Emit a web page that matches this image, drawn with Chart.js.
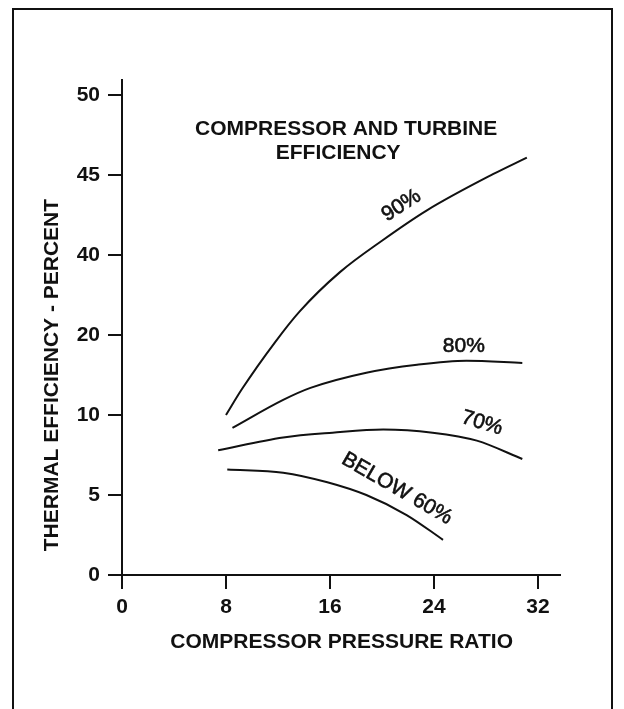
<!DOCTYPE html>
<html>
<head>
<meta charset="utf-8">
<title>Thermal efficiency vs compressor pressure ratio</title>
<script src="https://cdn.jsdelivr.net/npm/chart.js@4.4.0/dist/chart.umd.min.js"></script>
<style>
  body { margin: 0; background: #fff; }
  #effChart { display: block; }
</style>
</head>
<body>
<canvas id="effChart" width="624" height="709"></canvas>
<script>
// the y labels are evenly spaced on the axis but are not evenly spaced values
const yTickLabels = [0, 5, 10, 20, 40, 45, 50];
const xTicks = [0, 8, 16, 24, 32];

// compressor pressure ratio / thermal efficiency (%) for each component efficiency
const ratio90 = [8.0, 9.23, 11.77, 13.69, 16.77, 20.0, 23.46, 28.54, 31.15];
const eff90 = [10.0, 13.25, 19.1, 26.0, 35.75, 40.9, 42.8, 45.06, 46.1];

const ratio80 = [8.5, 12.4, 14.5, 18.8, 22.7, 26.5, 30.8];
const eff80 = [9.2, 11.9, 13.4, 15.3, 16.3, 16.8, 16.5];

const ratio70 = [7.4, 12.4, 16.2, 20.1, 23.9, 27.3, 30.8];
const eff70 = [7.8, 8.6, 8.9, 9.1, 8.9, 8.4, 7.25];

const ratio60 = [8.1, 12.4, 15.8, 18.8, 21.9, 24.7];
const eff60 = [6.6, 6.4, 5.8, 5.0, 3.75, 2.2];

// map a percent value onto the evenly spaced axis positions
function toPos(v) {
  for (let i = 0; i < yTickLabels.length - 1; i++) {
    const a = yTickLabels[i], b = yTickLabels[i + 1];
    if (v <= b) return i + (v - a) / (b - a);
  }
  return yTickLabels.length - 1;
}

function series(xs, ys) {
  return {
    data: xs.map((x, i) => ({ x: x, y: toPos(ys[i]) })),
    borderColor: '#111',
    borderWidth: 2,
    pointRadius: 0,
    cubicInterpolationMode: 'monotone'
  };
}

const FONT = '"Liberation Sans", Arial, Helvetica, sans-serif';

// frame, axis titles and curve captions
const decorations = {
  id: 'decorations',
  afterDraw(chart) {
    const ctx = chart.ctx;
    const xs = chart.scales.x, ys = chart.scales.y;
    const area = chart.chartArea;
    ctx.save();

    ctx.strokeStyle = '#111';
    ctx.lineWidth = 2;
    ctx.beginPath();
    ctx.moveTo(13, 709);
    ctx.lineTo(13, 9);
    ctx.lineTo(612, 9);
    ctx.lineTo(612, 709);
    ctx.stroke();

    ctx.fillStyle = '#111';
    ctx.textAlign = 'center';
    ctx.textBaseline = 'middle';

    ctx.font = 'bold 21px ' + FONT;
    ctx.fillText('COMPRESSOR PRESSURE RATIO', xs.getPixelForValue(16.9), area.bottom + 67);
    const ax = xs.getPixelForValue(17.25), ay = ys.getPixelForValue(toPos(47.9));
    ctx.fillText('COMPRESSOR AND TURBINE', ax, ay);
    ctx.fillText('EFFICIENCY', ax - 8, ay + 24);

    ctx.save();
    ctx.translate(area.left - 70, ys.getPixelForValue(2.5));
    ctx.rotate(-Math.PI / 2);
    ctx.fillText('THERMAL EFFICIENCY - PERCENT', 0, 0);
    ctx.restore();

    const captions = [
      { text: '90%', x: 21.5, y: 43.1, angle: -33 },
      { text: '80%', x: 26.3, y: 18.6, angle: 0 },
      { text: '70%', x: 27.7, y: 9.5, angle: 17 },
      { text: 'BELOW 60%', x: 21.15, y: 5.4, angle: 30 }
    ];
    ctx.font = '21px ' + FONT;
    ctx.lineWidth = 0.6;
    captions.forEach(c => {
      ctx.save();
      ctx.translate(xs.getPixelForValue(c.x), ys.getPixelForValue(toPos(c.y)));
      ctx.rotate(c.angle * Math.PI / 180);
      ctx.fillText(c.text, 0, 0);
      ctx.strokeText(c.text, 0, 0);
      ctx.restore();
    });

    ctx.restore();
  }
};

const axisGrid = { display: true, drawOnChartArea: false, drawTicks: true, tickLength: 14, color: '#111', lineWidth: 2 };
const axisBorder = { display: true, color: '#111', width: 2 };
const tickFont = { family: FONT, size: 21, weight: 'bold' };

const ctx = document.getElementById('effChart').getContext('2d');

new Chart(ctx, {
  type: 'line',
  data: {
    datasets: [
      series(ratio90, eff90),
      series(ratio80, eff80),
      series(ratio70, eff70),
      series(ratio60, eff60)
    ]
  },
  options: {
    responsive: false,
    animation: false,
    layout: { padding: { left: 0, top: 80, right: 64, bottom: 0 } },
    plugins: { legend: { display: false }, tooltip: { enabled: false } },
    scales: {
      x: {
        type: 'linear',
        position: 'bottom',
        min: 0,
        max: 33.7,
        afterBuildTicks: s => { s.ticks = xTicks.map(v => ({ value: v })); },
        afterFit: s => { s.height = 134; },
        grid: axisGrid,
        border: axisBorder,
        ticks: { color: '#111', padding: 6, maxRotation: 0, font: tickFont }
      },
      y: {
        type: 'linear',
        position: 'left',
        min: 0,
        max: 6.19,
        afterBuildTicks: s => { s.ticks = yTickLabels.map((_, i) => ({ value: i })); },
        afterFit: s => { s.width = 122; },
        grid: axisGrid,
        border: axisBorder,
        ticks: {
          color: '#111',
          padding: 8,
          font: tickFont,
          callback: v => yTickLabels[Math.round(v)]
        }
      }
    }
  },
  plugins: [decorations]
});
</script>
</body>
</html>
